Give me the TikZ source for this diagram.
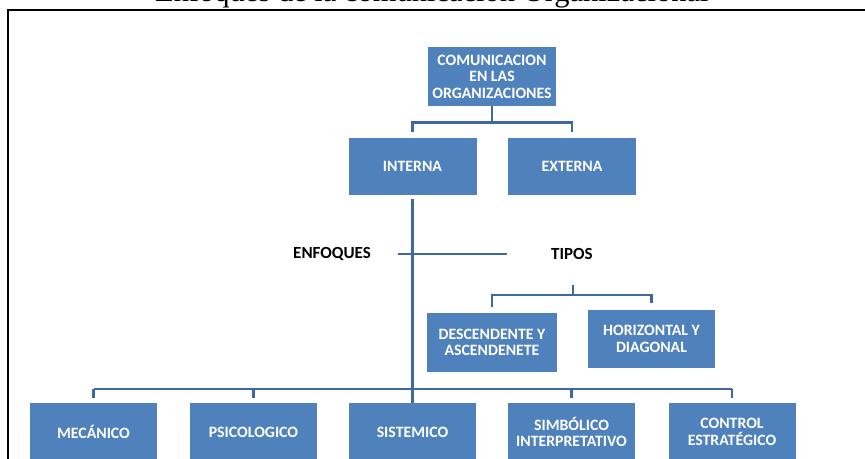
\documentclass[tikz,border=0pt]{standalone}
\usepackage{fontspec}
\setmainfont{Carlito}
\newfontfamily\titlefont{Liberation Serif}
\definecolor{boxblue}{RGB}{79,129,189}
\definecolor{linecol}{RGB}{64,104,160}
\tikzset{
  bx/.style={fill=boxblue, draw=none, minimum width=128pt, minimum height=58pt,
    inner sep=2pt, align=center, text=white, font=\bfseries\fontsize{15.8}{16.5}\selectfont},
  lbl/.style={font=\bfseries\fontsize{17}{19}\selectfont, text=black, inner sep=0pt},
  conn/.style={draw=linecol, line width=2.6pt},
}
\begin{document}
\begin{tikzpicture}[x=1pt,y=-1pt]
\useasboundingbox (0,0) rectangle (865,458);
\clip (0,0) rectangle (865,458);
\fill[white] (0,0) rectangle (865,458);
% title (cut off at top)
\node[anchor=base west, inner sep=0pt, font=\titlefont\fontsize{30.5}{34}\selectfont] (title) at (155,1) {Enfoques de la comunicación Organizacional};
% frame
\draw[line width=2pt] (8,10) rectangle (900,500);
% boxes
\node[bx, minimum height=59pt] (top) at (492,76.5) {COMUNICACION\\EN LAS\\ORGANIZACIONES};
\node[bx, minimum height=57pt] (interna) at (412.5,166) {INTERNA};
\node[bx, minimum height=57pt] (externa) at (572,166) {EXTERNA};
\node[bx, minimum width=130pt, minimum height=59pt] (desc) at (492,342.5) {DESCENDENTE Y\\ASCENDENETE};
\node[bx, minimum width=127pt] (horiz) at (651.5,339) {HORIZONTAL Y\\DIAGONAL};
\node[bx, minimum width=127pt] (mec) at (93.5,432) {MECÁNICO};
\node[bx, minimum width=127pt] (psi) at (253.5,432) {PSICOLOGICO};
\node[bx, minimum width=127pt] (sis) at (412.5,432) {SISTEMICO};
\node[bx, minimum width=127pt] (sim) at (571.5,432) {SIMBÓLICO\\INTERPRETATIVO};
\node[bx, minimum width=127pt] (con) at (732,432) {CONTROL\\ESTRATÉGICO};
% labels
\node[lbl] (enf) at (332,254) {ENFOQUES};
\node[lbl] (tip) at (572,254) {TIPOS};
\coordinate (crossL) at (398,254);
\coordinate (crossR) at (507,254);
\coordinate (tipTop) at (573,285);
% connectors
\draw[conn, shorten >=5pt] (top.south) -- ++(0,16) -| (interna.north);
\draw[conn, shorten >=5pt] (top.south) -- ++(0,16) -| (externa.north);
\draw[conn, shorten <=4pt] (interna.south) -- (sis.north);
\draw[conn] (crossL) -- (crossR);
\draw[conn, shorten >=6pt] (tipTop) -- ++(0,10) -| (desc.north);
\draw[conn, shorten >=7pt] (tipTop) -- ++(0,10) -| (horiz.north);
\draw[conn] (mec.north) ++(0,-14) -- ++(638.5,0);
\draw[conn, shorten >=5pt] (mec.north) ++(0,-14) -- (mec.north);
\draw[conn, shorten >=5pt] (psi.north) ++(0,-14) -- (psi.north);
\draw[conn, shorten >=5pt] (sim.north) ++(0,-14) -- (sim.north);
\draw[conn, shorten >=5pt] (con.north) ++(0,-14) -- (con.north);
\end{tikzpicture}
\end{document}
